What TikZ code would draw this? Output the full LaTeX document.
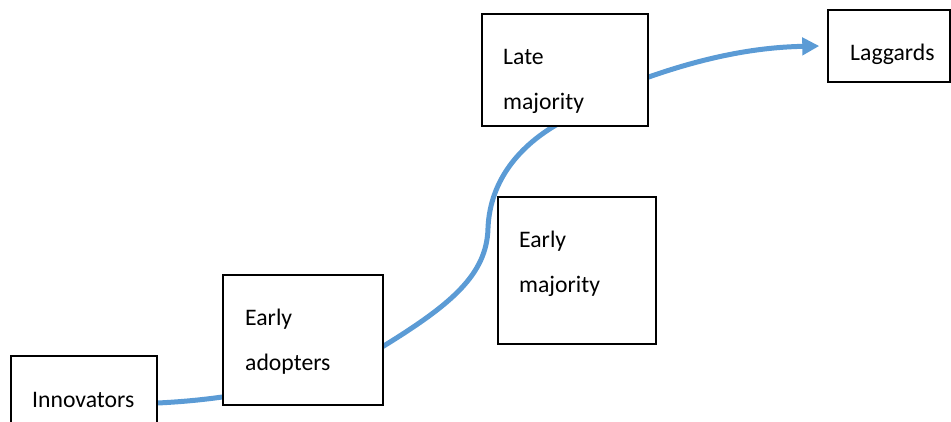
\documentclass[tikz,border=0pt]{standalone}
\usepackage{fontspec}
\setmainfont{Carlito}
\usetikzlibrary{arrows.meta,backgrounds}
\definecolor{flowblue}{RGB}{91,155,213}
\begin{document}
\begin{tikzpicture}[x=1pt,y=-1pt,
  box/.style={draw=black, line width=1.4pt, fill=white, inner sep=0pt},
  lbl/.style={font=\fontsize{23.7pt}{45pt}\selectfont, align=left, anchor=west, inner sep=0pt},
  flow/.style={draw=flowblue, line width=5pt, -{Triangle[length=17pt,width=17pt]}}]
\useasboundingbox (0,0) rectangle (951,421);
% boxes
\node[box, minimum width=146pt, minimum height=100pt] (inn) at (84,406) {};
\node[box, minimum width=160pt, minimum height=130pt] (ea) at (303,340) {};
\node[box, minimum width=158pt, minimum height=147pt] (em) at (577,270.5) {};
\node[box, minimum width=166pt, minimum height=112pt] (lm) at (565,70) {};
\node[box, minimum width=122pt, minimum height=72pt] (lag) at (889,46) {};
% texts
\node[lbl] (tinn) at (32,400) {Innovators};
\node[lbl] (tea) at (245,342) {Early\\adopters};
\node[lbl] (tem) at (519,264) {Early\\majority};
\node[lbl] (tlm) at (503,81.5) {Late\\majority};
\node[lbl] (tlag) at (850,54) {Laggards};
% connector
\coordinate (bend) at (488,228);
\begin{scope}[on background layer]
\draw[flow] ([yshift=3pt]inn.east)
  .. controls (260,398) and (330,375) .. ([yshift=-6pt]ea.east)
  .. controls (450,305) and (487,275) .. (bend)
  .. controls (490,180) and (520,145) .. ([xshift=-5pt,yshift=4pt]lm.south)
  .. controls (600,100) and (620,88) .. ([yshift=-7pt]lm.east)
  .. controls (720,52) and (770,47) .. ([xshift=-8pt]lag.west);
\end{scope}
\end{tikzpicture}
\end{document}
